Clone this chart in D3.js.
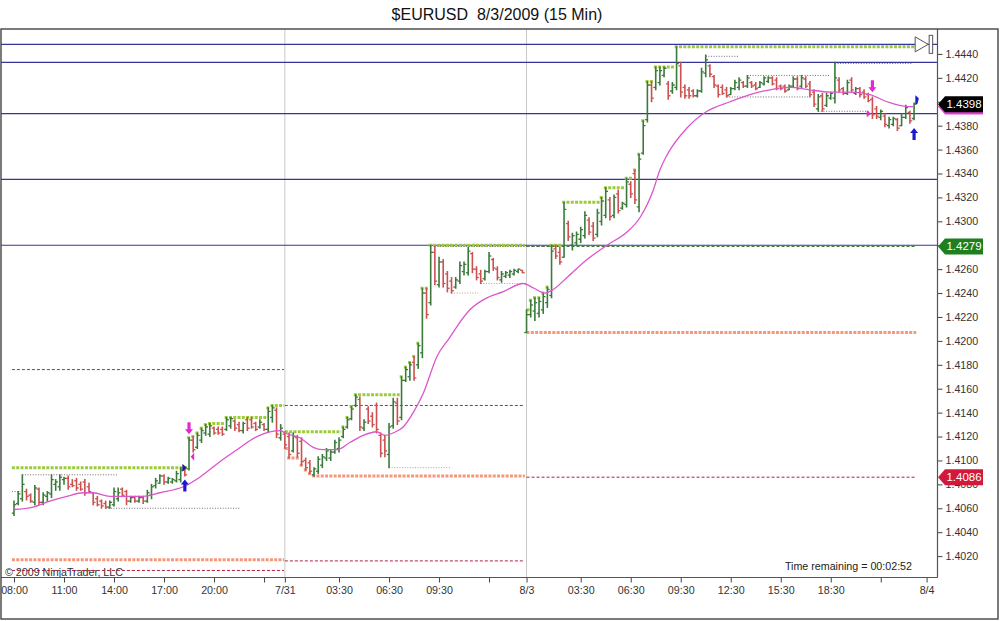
<!DOCTYPE html>
<html><head><meta charset="utf-8">
<script src="https://cdn.jsdelivr.net/npm/d3@7"></script>
<style>
body{margin:0;background:#fff;}
svg{display:block;font-family:"Liberation Sans",Arial,Helvetica,sans-serif;}
</style>
</head><body>
<svg id="c" width="1000" height="621"></svg>
<script>
// ---------------- DATA ----------------
const title = "$EURUSD  8/3/2009 (15 Min)";
const opens = [1.4056,1.4064,1.4068,1.4074,1.4071,1.4065,1.4076,1.4065,1.4070,1.4072,1.4080,1.4078,1.4084,1.4085,1.4080,1.4083,1.4080,1.4082,1.4078,1.4073,1.4068,1.4066,1.4064,1.4061,1.4063,1.4068,1.4076,1.4074,1.4066,1.4069,1.4066,1.4069,1.4066,1.4071,1.4079,1.4081,1.4087,1.4082,1.4082,1.4083,1.4084,1.4092,
1.4093,1.4117,1.4111,1.4117,1.4123,1.4122,1.4127,1.4126,1.4126,1.4126,1.4129,1.4133,1.4130,1.4125,1.4134,1.4134,1.4131,1.4128,1.4130,1.4126,1.4136,1.4142,1.4119,
1.4122,1.4120,1.4108,1.4119,1.4116,1.4100,1.4098,1.4088,1.4091,1.4096,1.4102,1.4102,1.4107,1.4110,1.4120,1.4128,1.4135,1.4146,1.4151,1.4127,1.4143,1.4137,1.4146,1.4121,1.4117,1.4105,1.4129,1.4148,1.4136,1.4167,1.4170,1.4182,1.4180,1.4190,1.4240,1.4232,1.4274,1.4247,1.4266,1.4256,1.4250,1.4245,1.4250,1.4258,1.4257,1.4273,1.4260,1.4256,1.4252,1.4258,1.4268,1.4260,1.4251,1.4254,1.4255,1.4256,1.4258,1.4259,
1.4207,1.4222,1.4225,1.4223,1.4226,1.4232,1.4238,1.4277,1.4274,1.4270,1.4298,1.4280,1.4282,1.4285,1.4288,1.4301,1.4296,1.4289,1.4300,1.4305,1.4318,1.4305,1.4323,1.4311,1.4314,1.4331,1.4340,1.4312,1.4357,1.4385,1.4414,1.4412,1.4416,1.4422,1.4415,1.4409,1.4412,1.4430,1.4412,1.4410,1.4409,1.4405,1.4409,1.4424,1.4430,1.4421,1.4413,1.4412,1.4410,1.4406,1.4411,1.4412,1.4416,1.4413,1.4416,1.4414,1.4412,1.4415,1.4417,1.4420,1.4418,1.4413,1.4413,1.4410,1.4413,1.4419,1.4413,1.4419,1.4415,1.4408,1.4394,1.4405,1.4397,1.4403,1.4403,1.4418,1.4411,1.4407,1.4418,1.4407,1.4411,1.4408,1.4406,1.4402,1.4394,1.4387,1.4388,1.4380,1.4381,1.4385,1.4380,1.4387,1.4391,1.4386];
const highs = [1.4066,1.4074,1.4088,1.4076,1.4072,1.4079,1.4077,1.4073,1.4074,1.4088,1.4084,1.4088,1.4086,1.4087,1.4084,1.4085,1.4082,1.4084,1.4081,1.4073,1.4070,1.4067,1.4066,1.4066,1.4077,1.4077,1.4077,1.4075,1.4070,1.4070,1.4070,1.4070,1.4075,1.4080,1.4085,1.4088,1.4088,1.4086,1.4085,1.4091,1.4094,1.4094,
1.4119,1.4120,1.4123,1.4127,1.4130,1.4131,1.4128,1.4128,1.4128,1.4136,1.4136,1.4134,1.4132,1.4132,1.4136,1.4136,1.4132,1.4134,1.4131,1.4144,1.4146,1.4144,1.4130,
1.4124,1.4123,1.4123,1.4121,1.4119,1.4102,1.4100,1.4094,1.4103,1.4105,1.4110,1.4109,1.4117,1.4119,1.4128,1.4136,1.4145,1.4155,1.4153,1.4134,1.4145,1.4140,1.4148,1.4123,1.4121,1.4131,1.4152,1.4152,1.4170,1.4178,1.4182,1.4187,1.4198,1.4244,1.4244,1.4280,1.4279,1.4270,1.4268,1.4258,1.4253,1.4253,1.4266,1.4266,1.4278,1.4274,1.4262,1.4259,1.4259,1.4274,1.4269,1.4262,1.4258,1.4258,1.4259,1.4260,1.4260,1.4259,
1.4226,1.4234,1.4236,1.4236,1.4240,1.4245,1.4280,1.4280,1.4278,1.4316,1.4300,1.4290,1.4291,1.4295,1.4308,1.4303,1.4299,1.4310,1.4320,1.4328,1.4320,1.4322,1.4326,1.4316,1.4336,1.4333,1.4343,1.4356,1.4384,1.4417,1.4417,1.4429,1.4429,1.4429,1.4417,1.4416,1.4446,1.4433,1.4414,1.4412,1.4410,1.4410,1.4428,1.4439,1.4431,1.4422,1.4414,1.4414,1.4412,1.4412,1.4418,1.4420,1.4417,1.4422,1.4417,1.4416,1.4417,1.4421,1.4421,1.4421,1.4420,1.4414,1.4414,1.4414,1.4421,1.4421,1.4422,1.4421,1.4417,1.4410,1.4406,1.4407,1.4407,1.4408,1.4433,1.4420,1.4412,1.4418,1.4420,1.4412,1.4412,1.4410,1.4407,1.4404,1.4396,1.4393,1.4390,1.4387,1.4387,1.4386,1.4390,1.4397,1.4392,1.4399];
const lows = [1.4054,1.4063,1.4066,1.4067,1.4065,1.4063,1.4063,1.4063,1.4066,1.4069,1.4075,1.4075,1.4080,1.4076,1.4078,1.4075,1.4075,1.4071,1.4073,1.4063,1.4062,1.4060,1.4060,1.4060,1.4062,1.4066,1.4070,1.4063,1.4065,1.4065,1.4065,1.4064,1.4065,1.4068,1.4077,1.4081,1.4080,1.4081,1.4081,1.4082,1.4082,1.4087,
1.4092,1.4107,1.4110,1.4115,1.4121,1.4120,1.4122,1.4122,1.4121,1.4125,1.4127,1.4125,1.4124,1.4123,1.4125,1.4127,1.4125,1.4127,1.4125,1.4124,1.4132,1.4119,1.4117,
1.4110,1.4102,1.4107,1.4103,1.4096,1.4092,1.4089,1.4087,1.4089,1.4094,1.4100,1.4100,1.4106,1.4107,1.4119,1.4127,1.4134,1.4145,1.4125,1.4125,1.4131,1.4128,1.4123,1.4103,1.4103,1.4094,1.4127,1.4130,1.4134,1.4166,1.4167,1.4167,1.4177,1.4186,1.4219,1.4230,1.4247,1.4245,1.4245,1.4241,1.4240,1.4244,1.4248,1.4255,1.4255,1.4257,1.4251,1.4248,1.4251,1.4257,1.4259,1.4251,1.4249,1.4253,1.4253,1.4255,1.4257,1.4257,
1.4207,1.4220,1.4217,1.4220,1.4223,1.4228,1.4236,1.4269,1.4264,1.4270,1.4284,1.4276,1.4280,1.4282,1.4286,1.4289,1.4284,1.4287,1.4297,1.4303,1.4301,1.4303,1.4307,1.4310,1.4312,1.4320,1.4315,1.4308,1.4356,1.4383,1.4400,1.4410,1.4414,1.4421,1.4402,1.4407,1.4410,1.4404,1.4403,1.4403,1.4404,1.4404,1.4408,1.4421,1.4421,1.4412,1.4404,1.4406,1.4404,1.4406,1.4410,1.4410,1.4412,1.4412,1.4412,1.4410,1.4412,1.4414,1.4416,1.4414,1.4410,1.4410,1.4408,1.4410,1.4412,1.4410,1.4412,1.4412,1.4404,1.4396,1.4392,1.4392,1.4396,1.4402,1.4399,1.4408,1.4406,1.4406,1.4408,1.4406,1.4404,1.4403,1.4400,1.4386,1.4386,1.4385,1.4379,1.4378,1.4380,1.4376,1.4380,1.4386,1.4382,1.4385];
const closes = [1.4063,1.4072,1.4080,1.4070,1.4066,1.4077,1.4065,1.4071,1.4073,1.4084,1.4082,1.4086,1.4085,1.4078,1.4079,1.4077,1.4076,1.4073,1.4074,1.4065,1.4063,1.4062,1.4061,1.4065,1.4074,1.4073,1.4071,1.4066,1.4069,1.4066,1.4069,1.4066,1.4073,1.4078,1.4083,1.4087,1.4082,1.4085,1.4084,1.4089,1.4092,1.4088,
1.4117,1.4109,1.4121,1.4125,1.4128,1.4129,1.4123,1.4123,1.4122,1.4134,1.4135,1.4127,1.4125,1.4131,1.4127,1.4128,1.4126,1.4132,1.4126,1.4141,1.4144,1.4122,1.4127,
1.4113,1.4105,1.4120,1.4106,1.4099,1.4094,1.4091,1.4093,1.4101,1.4103,1.4108,1.4107,1.4115,1.4117,1.4126,1.4134,1.4143,1.4153,1.4128,1.4132,1.4133,1.4130,1.4126,1.4106,1.4108,1.4128,1.4149,1.4133,1.4167,1.4176,1.4180,1.4169,1.4196,1.4240,1.4222,1.4274,1.4250,1.4266,1.4248,1.4244,1.4242,1.4251,1.4263,1.4264,1.4275,1.4260,1.4253,1.4250,1.4258,1.4271,1.4261,1.4253,1.4256,1.4257,1.4258,1.4259,1.4260,1.4257,
1.4222,1.4230,1.4232,1.4233,1.4237,1.4243,1.4275,1.4271,1.4266,1.4310,1.4287,1.4288,1.4289,1.4293,1.4305,1.4291,1.4286,1.4307,1.4317,1.4325,1.4304,1.4320,1.4309,1.4315,1.4333,1.4323,1.4318,1.4352,1.4380,1.4414,1.4403,1.4426,1.4426,1.4428,1.4405,1.4414,1.4432,1.4408,1.4405,1.4405,1.4405,1.4409,1.4425,1.4435,1.4423,1.4414,1.4406,1.4407,1.4405,1.4411,1.4416,1.4418,1.4413,1.4420,1.4413,1.4411,1.4416,1.4420,1.4420,1.4415,1.4411,1.4411,1.4409,1.4413,1.4419,1.4411,1.4420,1.4413,1.4406,1.4398,1.4404,1.4394,1.4405,1.4407,1.4420,1.4410,1.4407,1.4416,1.4410,1.4411,1.4406,1.4404,1.4401,1.4389,1.4388,1.4392,1.4381,1.4385,1.4386,1.4378,1.4387,1.4395,1.4384,1.4398];

// moving average, read at sampled bar positions
const maIdx = [0,4.6,8.6,12.7,16.6,19,23,27,31,35,40.6,44.6,49.4,53.5,58.3,61.4,64,65,68.6,71.8,74,77.5,80.6,83.8,87,89,91,93.4,95.8,98.2,101.5,104.6,106.3,109.4,113.5,117.3,122.2,124.8,127.4,129.4,132.7,137.5,142.3,147.1,150.2,153.4,155,156.8,161.5,166.3,171.8,176.6,181.4,186.2,191,195.8,200.6,205.4,209.5,214.3,216];
const maVal = [1.4059,1.4061,1.4066,1.4070,1.4073,1.4073,1.4070,1.4070,1.4070,1.4073,1.4078,1.4086,1.4099,1.4109,1.4120,1.4124,1.4125,1.4123,1.4119,1.4111,1.4109,1.4109,1.4115,1.4121,1.4124,1.4121,1.4123,1.4128,1.4140,1.4156,1.4187,1.4203,1.4212,1.4226,1.4236,1.4241,1.4248,1.4244,1.4240,1.4243,1.4253,1.4268,1.4280,1.4291,1.4303,1.4326,1.4343,1.4356,1.4378,1.4392,1.4400,1.4406,1.4410,1.4412,1.4410,1.4408,1.4408,1.4406,1.4400,1.4396,1.4396];

// sessions
const sessionStart = [0,65,123];
const sessionEnd = [64,122,216];
const sessionLineFrom = [-0.5,65,123];
const sessionLineTo = [64.8,122.6,216.5];
const sessionOpenHigh = [1.4094,null,null];
const sessionOpenLow = [1.4017,null,null];
const priorHigh = [1.4176,1.4146,1.4279];
const priorLow = [1.4008,1.4016,1.4086];

// horizontal reference lines (blue)
const refLines = [1.4448,1.4433,1.4390,1.4335,1.4280];

// swing dotted lines: from index, to index, price
const swingFrom = [-0.5,2,22,90,105,112,101,166,176,171,193,197];
const swingTo   = [1.5,24.7,54.2,105,111.4,123,130,174,196,191,205.5,215.5];
const swingPrice= [1.4074,1.4088,1.4060,1.4094,1.4240,1.4248,1.4279,1.4438,1.4422,1.4404,1.4392,1.4432];
const swingTone = ["g","g","g","p","p","p","g","g","g","g","g","g"];

// signals
const buyIdx = [41,216];  const buyPrice = [1.4084,1.4378];
const sellIdx = [42,206]; const sellPrice = [1.4122,1.4408];

// axes
const yTicks = [1.4020,1.4040,1.4060,1.4080,1.4100,1.4120,1.4140,1.4160,1.4180,1.4200,1.4220,1.4240,1.4260,1.4280,1.4300,1.4320,1.4340,1.4360,1.4380,1.4400,1.4420,1.4440];
const yTicksHidden = [1.4280,1.4400]; // labels fully covered by the price markers
const xTickIdx = [0,12,24,36,48,60,65,78,90,102,114,123,136,148,160,172,184,196,208,219];
const xTickLabels = ["08:00","11:00","14:00","17:00","20:00","","7/31","03:30","06:30","09:30","","8/3","03:30","06:30","09:30","12:30","15:30","18:30","","8/4"];
const lastPrice = 1.4398;
const maLast = 1.4396;
const copyright = "\u00A9 2009 NinjaTrader, LLC";
const timeText = "Time remaining = 00:02:52";

// ---------------- DRAW ----------------
const svg = d3.select("#c");
const P = {l:1, t:29, r:937.5, b:577.5};
const x = d3.scaleLinear().domain([-2.4, 221.5]).range([4, 937]);
const y = d3.scaleLinear().domain([1.40017, 1.44600]).range([578, 30]);

const GREEN = "#3a7a3a", RED = "#cc5050";
const NAVY = "#35359a";

svg.append("text").attr("x",497).attr("y",20).attr("text-anchor","middle")
  .attr("font-size",16).attr("fill","#111").text(title).style("white-space","pre");

svg.append("defs").append("clipPath").attr("id","clip").append("rect")
  .attr("x",P.l).attr("y",P.t).attr("width",P.r-P.l).attr("height",P.b-P.t);
const g = svg.append("g").attr("clip-path","url(#clip)");

// session separators
g.selectAll(".sep").data(sessionStart.slice(1)).join("line")
  .attr("x1",d=>x(d)).attr("x2",d=>x(d)).attr("y1",P.t).attr("y2",P.b)
  .attr("stroke","#c8c8c8").attr("stroke-width",1);

// prior-day dashed lines
sessionStart.forEach((s,k)=>{
  g.append("line").attr("x1",x(sessionLineFrom[k])).attr("x2",x(sessionLineTo[k]))
    .attr("y1",y(priorHigh[k])).attr("y2",y(priorHigh[k]))
    .attr("stroke","#2f6f2f").attr("stroke-width",1).attr("stroke-dasharray","3,2");
  if(k>0) g.append("line").attr("x1",x(sessionLineFrom[k])).attr("x2",x(sessionLineTo[k]))
    .attr("y1",y(priorLow[k])).attr("y2",y(priorLow[k]))
    .attr("stroke","#b02040").attr("stroke-width",1).attr("stroke-dasharray","3,2");
});

// blue reference lines
g.selectAll(".ref").data(refLines).join("line")
  .attr("x1",P.l).attr("x2",P.r).attr("y1",d=>y(d)).attr("y2",d=>y(d))
  .attr("stroke",NAVY).attr("stroke-width",1.2);

// running session high / low stairs
function stairs(k, useHigh){
  const segs=[]; let val = useHigh ? sessionOpenHigh[k] : sessionOpenLow[k];
  let from = sessionLineFrom[k];
  for(let i=sessionStart[k]; i<=sessionEnd[k]; i++){
    const v = useHigh ? highs[i] : lows[i];
    if(val===null){ val=v; from = sessionLineFrom[k]; continue; }
    if((useHigh && v>val) || (!useHigh && v<val)){
      segs.push({a:from, b:i-0.45, v:val});
      val=v; from=i-0.45;
    }
  }
  segs.push({a:from, b:sessionLineTo[k], v:val});
  return segs;
}
sessionStart.forEach((s,k)=>{
  const hs = stairs(k,true), ls = stairs(k,false);
  g.selectAll(null).data(hs).join("line")
    .attr("x1",d=>x(d.a)).attr("x2",d=>Math.max(x(d.b),x(d.a)+3)).attr("y1",d=>y(d.v)).attr("y2",d=>y(d.v))
    .attr("stroke","#9ccc3c").attr("stroke-width",3).attr("stroke-dasharray","3,1.3");
  g.selectAll(null).data(ls).join("line")
    .attr("x1",d=>x(d.a)).attr("x2",d=>Math.max(x(d.b),x(d.a)+3)).attr("y1",d=>y(d.v)).attr("y2",d=>y(d.v))
    .attr("stroke","#f4977a").attr("stroke-width",3).attr("stroke-dasharray","3,1.3");
});

// swing dotted lines
g.selectAll(".sw").data(swingPrice.map((p,i)=>({a:swingFrom[i],b:swingTo[i],p,t:swingTone[i]}))).join("line")
  .attr("x1",d=>x(d.a)).attr("x2",d=>x(d.b)).attr("y1",d=>y(d.p)).attr("y2",d=>y(d.p))
  .attr("stroke",d=>d.t==="p"?"#d09090":"#707070").attr("stroke-width",1).attr("stroke-dasharray","1,1.6");

// OHLC bars
const bars = opens.map((o,i)=>({i,o,h:highs[i],l:lows[i],c:closes[i]}));
const bg = g.append("g");
bars.forEach(d=>{
  const col = d.c>=d.o ? GREEN : RED;
  const cx = x(d.i);
  bg.append("line").attr("x1",cx).attr("x2",cx).attr("y1",y(d.h)-0.5).attr("y2",y(d.l)+0.5)
    .attr("stroke",col).attr("stroke-width",1.6);
  bg.append("line").attr("x1",cx-2.3).attr("x2",cx).attr("y1",y(d.o)).attr("y2",y(d.o))
    .attr("stroke",col).attr("stroke-width",1.3);
  bg.append("line").attr("x1",cx).attr("x2",cx+2.3).attr("y1",y(d.c)).attr("y2",y(d.c))
    .attr("stroke",col).attr("stroke-width",1.3);
});

// moving average
const maPts = maIdx.map((v,i)=>[v,maVal[i]]);
g.append("path").datum(maPts)
  .attr("d", d3.line().x(d=>x(d[0])).y(d=>y(d[1])).curve(d3.curveMonotoneX))
  .attr("fill","none").attr("stroke","#dd55cc").attr("stroke-width",1.3);

// signal arrows
function arrow(cx, tipY, dir, col){ // dir=-1 up arrow (tip on top), 1 down arrow
  const L=12, hw=4, hl=5, sw=1.6;
  const base = tipY - dir*L;
  const neck = tipY - dir*hl;
  const p = [[cx-sw,base],[cx+sw,base],[cx+sw,neck],[cx+hw,neck],[cx,tipY],[cx-hw,neck],[cx-sw,neck]];
  g.append("path").attr("d","M"+p.map(q=>q.join(",")).join("L")+"Z").attr("fill",col);
}
buyIdx.forEach((b,k)=>arrow(x(b), y(buyPrice[k]), -1, "#1a1ad0"));
sellIdx.forEach((s,k)=>arrow(x(s), y(sellPrice[k]), 1, "#e22ad0"));
// small markers
{
  const bx = x(buyIdx[0]-0.6), by = y(highs[40]);
  g.append("path").attr("d",`M${bx},${by-4}L${bx+4.5},${by}L${bx},${by+4}Z`).attr("fill","#1a1aa0");
  const mx = x(sellIdx[0]+0.4), my = y(1.4103);
  g.append("path").attr("d",`M${mx+3.5},${my-4}L${mx},${my}L${mx+3.5},${my+4}Z`).attr("fill","#e22ad0");
  const nx = x(sellIdx[1]-0.9), ny = y(1.4390);
  g.append("path").attr("d",`M${nx-2},${ny-3.5}L${nx+2.5},${ny}L${nx-2},${ny+3.5}Z`).attr("fill","#e22ad0");
  const fx = x(buyIdx[1]+0.3), fy = y(1.4402);
  g.append("path").attr("d",`M${fx},${fy+5}L${fx},${fy-4}L${fx+3.5},${fy-1}L${fx+2},${fy+5}Z`).attr("fill","#1a1ad0");
}

// end-of-chart marker (triangle + bar)
{
  const ty = y(1.4448), tx = x(sessionLineTo[2])-1;
  svg.append("path").attr("d",`M${tx},${ty-7.5}L${tx+13},${ty}L${tx},${ty+7.5}Z`)
    .attr("fill","#fff").attr("stroke","#555").attr("stroke-width",1);
  svg.append("rect").attr("x",tx+14).attr("y",ty-9).attr("width",3.5).attr("height",18)
    .attr("fill","#fff").attr("stroke","#555").attr("stroke-width",1);
}

// texts
g.append("text").attr("x",5).attr("y",576).attr("font-size",10.7).attr("fill","#333").text(copyright);
// red dashed line over copyright (prior low of first session)
g.append("line").attr("x1",x(sessionLineFrom[0])).attr("x2",x(sessionLineTo[0]))
  .attr("y1",y(priorLow[0])).attr("y2",y(priorLow[0]))
  .attr("stroke","#b02040").attr("stroke-width",1).attr("stroke-dasharray","3,2");
svg.append("text").attr("x",912).attr("y",570).attr("text-anchor","end").attr("font-size",10.7)
  .attr("fill","#222").text(timeText);

// axes
const yAxis = d3.axisRight(y).tickValues(yTicks)
  .tickFormat(d=> yTicksHidden.some(h=>Math.abs(h-d)<1e-6) ? "" : d3.format(".4f")(d))
  .tickSize(5).tickPadding(3);
const ya = svg.append("g").attr("transform",`translate(${P.r},0)`).call(yAxis);
ya.select(".domain").remove();
ya.selectAll("text").attr("font-size",10.7).attr("fill","#333").attr("font-family","Liberation Sans, Arial, sans-serif");
ya.selectAll("line").attr("stroke","#444");

const xAxis = d3.axisBottom(x).tickValues(xTickIdx).tickFormat((d,i)=>xTickLabels[i]).tickSize(5).tickPadding(4);
const xa = svg.append("g").attr("transform",`translate(0,${P.b})`).call(xAxis);
xa.select(".domain").remove();
xa.selectAll("text").attr("font-size",10.7).attr("fill","#333").attr("font-family","Liberation Sans, Arial, sans-serif");
xa.selectAll("line").attr("stroke","#444");

// axis lines and frame
svg.append("line").attr("x1",P.r).attr("x2",P.r).attr("y1",P.t).attr("y2",P.b).attr("stroke","#555").attr("stroke-width",1.2);
svg.append("line").attr("x1",P.l).attr("x2",P.r).attr("y1",P.b).attr("y2",P.b).attr("stroke","#555").attr("stroke-width",1.2);
svg.append("rect").attr("x",1).attr("y",P.t).attr("width",997).attr("height",619-P.t)
  .attr("fill","none").attr("stroke","#444").attr("stroke-width",1.4);

// price markers on the axis
function marker(price, fill, label, textCol){
  const yc = y(price), x0 = P.r+0.5;
  const pts = [[x0,yc],[x0+7,yc-8],[x0+45,yc-8],[x0+45,yc+8],[x0+7,yc+8]];
  svg.append("path").attr("d","M"+pts.map(p=>p.join(",")).join("L")+"Z").attr("fill",fill);
  if(label) svg.append("text").attr("x",x0+26).attr("y",yc+4).attr("text-anchor","middle")
    .attr("font-size",11.5).attr("fill",textCol).text(label);
}
marker(maLast, "#dd44cc", null);
marker(lastPrice, "#000", d3.format(".4f")(lastPrice), "#fff");
marker(priorHigh[2], "#1f7f1f", d3.format(".4f")(priorHigh[2]), "#fff");
marker(priorLow[2], "#d4183c", d3.format(".4f")(priorLow[2]), "#fff");
</script>
</body></html>
